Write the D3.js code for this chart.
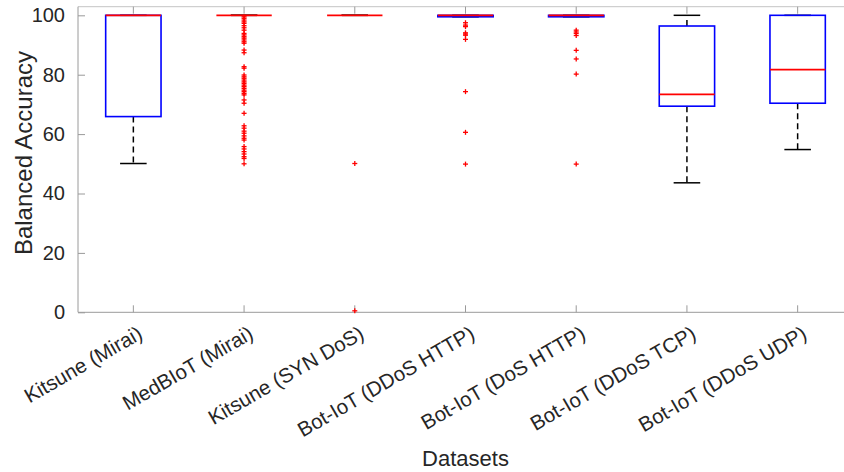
<!DOCTYPE html>
<html>
<head>
<meta charset="utf-8">
<script src="https://cdn.jsdelivr.net/npm/d3@7"></script>
<style>
    body { margin: 0; background: white; }
    text { font-family: "Liberation Sans", Arial, sans-serif; fill: #262626; }
</style>
</head>
<body>
<div id="chart"></div>
<script>

// values
const categories = ["Kitsune (Mirai)", "MedBIoT (Mirai)", "Kitsune (SYN DoS)", "Bot-IoT (DDoS HTTP)",
    "Bot-IoT (DoS HTTP)", "Bot-IoT (DDoS TCP)", "Bot-IoT (DDoS UDP)"];
const whiskerLow = [50.1, 100, 100, 99.5, 99.5, 43.6, 54.8];
const q1 = [65.9, 100, 100, 99.5, 99.5, 69.4, 70.4];
const medians = [100, 100, 100, 100, 100, 73.4, 81.7];
const q3 = [100, 100, 100, 100, 100, 96.4, 100];
const whiskerHigh = [100, 100, 100, 100, 100, 100, 100];
const outliers = [
    [],
    [99.5, 99.0, 98.4, 97.8, 97.3, 96.5, 95.8, 95.0, 93.9, 93.4, 92.8, 92.3, 91.7, 91.1, 90.6,
        88.3, 87.4, 82.7, 82.2, 79.9, 79.3, 78.8, 78.2, 77.6, 77.1, 76.5, 76.0, 75.4, 74.8, 74.3,
        73.7, 73.2, 71.5, 70.4, 67.0, 62.8, 62.0, 61.0, 60.3, 59.4, 58.6, 58.0, 55.8, 55.0, 54.1,
        53.3, 52.4, 51.8, 50.0],
    [50.1, 0.5],
    [97.5, 96.7, 96.2, 94.1, 93.7, 93.3, 91.9, 74.3, 60.6, 49.9],
    [95.0, 94.4, 93.9, 93.2, 88.2, 85.3, 80.2, 49.9],
    [],
    []
];
const yTicks = [0, 20, 40, 60, 80, 100];
const yMax = 102.9;

let boxData = categories.map((c, i) => ({
    name: c,
    lo: whiskerLow[i],
    q1: q1[i],
    med: medians[i],
    q3: q3[i],
    hi: whiskerHigh[i],
    out: outliers[i]
}));

let margin = { top: 6.7, left: 78 };
let width = 775;       // axis runs past the right edge of the picture, as in the reference
let height = 305.6;

let svg = d3.select("#chart").append("svg")
    .attr("width", 844)
    .attr("height", 472);

let g = svg.append("g")
    .attr("transform", "translate(" + margin.left + "," + margin.top + ")");

let x = d3.scaleBand()
    .domain(categories)
    .range([0, width])
    .padding(0);
let y = d3.scaleLinear()
    .domain([0, yMax])
    .range([height, 0]);

let bw = x.bandwidth();
let cx = d => x(d.name) + bw / 2;
let boxHalf = bw * 0.25;
let capHalf = bw * 0.12;

// frame lines
g.append("line").attr("x1", 0).attr("x2", width).attr("y1", 0).attr("y2", 0)
    .attr("stroke", "#c4c4c4").attr("stroke-width", 1);
g.append("line").attr("x1", 0).attr("x2", width).attr("y1", height).attr("y2", height)
    .attr("stroke", "#9a9a9a").attr("stroke-width", 1);
g.append("line").attr("x1", 0).attr("x2", 0).attr("y1", 0).attr("y2", height)
    .attr("stroke", "#9a9a9a").attr("stroke-width", 1);

// y axis (ticks point inward)
let yAxis = d3.axisLeft(y)
    .tickValues(yTicks)
    .tickSize(-7)
    .tickPadding(13);
g.append("g")
    .attr("class", "axis y-axis")
    .call(yAxis)
    .call(a => a.select(".domain").remove())
    .call(a => a.selectAll(".tick line").attr("stroke", "#9a9a9a"))
    .call(a => a.selectAll("text").style("font-size", "20px").attr("fill", "#262626"));

// x ticks, bottom and top, inward
g.selectAll(".xtick-bottom")
    .data(boxData)
    .enter().append("line")
    .attr("class", "xtick-bottom")
    .attr("x1", cx).attr("x2", cx)
    .attr("y1", height).attr("y2", height - 7)
    .attr("stroke", "#9a9a9a");
g.selectAll(".xtick-top")
    .data(boxData)
    .enter().append("line")
    .attr("class", "xtick-top")
    .attr("x1", cx).attr("x2", cx)
    .attr("y1", 0).attr("y2", 7)
    .attr("stroke", "#9a9a9a");

// rotated tick labels
g.selectAll(".xlabel")
    .data(boxData)
    .enter().append("text")
    .attr("class", "xlabel")
    .attr("transform", d => "translate(" + (cx(d) + 7) + "," + (height + 19) + ") rotate(-30)")
    .attr("dy", "0.35em")
    .style("text-anchor", "end")
    .style("font-size", "20.5px")
    .text(d => d.name);

// whiskers
let whiskers = g.selectAll(".whisker")
    .data(boxData)
    .enter().append("g")
    .attr("class", "whisker");

whiskers.append("line")
    .attr("x1", cx).attr("x2", cx)
    .attr("y1", d => y(d.q1)).attr("y2", d => y(d.lo))
    .attr("stroke", "black").attr("stroke-width", 1.5)
    .attr("stroke-dasharray", "6,4");
whiskers.append("line")
    .attr("x1", cx).attr("x2", cx)
    .attr("y1", d => y(d.q3)).attr("y2", d => y(d.hi))
    .attr("stroke", "black").attr("stroke-width", 1.5)
    .attr("stroke-dasharray", "6,4");
whiskers.append("line")
    .attr("x1", d => cx(d) - capHalf).attr("x2", d => cx(d) + capHalf)
    .attr("y1", d => y(d.lo)).attr("y2", d => y(d.lo))
    .attr("stroke", "black").attr("stroke-width", 1.5);
whiskers.append("line")
    .attr("x1", d => cx(d) - capHalf).attr("x2", d => cx(d) + capHalf)
    .attr("y1", d => y(d.hi)).attr("y2", d => y(d.hi))
    .attr("stroke", "black").attr("stroke-width", 1.5);

// boxes
g.selectAll(".box")
    .data(boxData)
    .enter().append("rect")
    .attr("class", "box")
    .attr("x", d => cx(d) - boxHalf)
    .attr("y", d => y(d.q3))
    .attr("width", boxHalf * 2)
    .attr("height", d => y(d.q1) - y(d.q3))
    .attr("fill", "none")
    .attr("stroke", "#0000ff")
    .attr("stroke-width", 1.6);

// medians
g.selectAll(".median")
    .data(boxData)
    .enter().append("line")
    .attr("class", "median")
    .attr("x1", d => cx(d) - boxHalf).attr("x2", d => cx(d) + boxHalf)
    .attr("y1", d => y(d.med)).attr("y2", d => y(d.med))
    .attr("stroke", "#ff0000")
    .attr("stroke-width", 1.8);

// outliers as '+' markers
let outlierPts = [];
boxData.forEach(d => d.out.forEach(v => outlierPts.push({ name: d.name, v: v })));

let marks = g.selectAll(".outlier")
    .data(outlierPts)
    .enter().append("g")
    .attr("class", "outlier")
    .attr("transform", d => "translate(" + (x(d.name) + bw / 2) + "," + y(d.v) + ")");
marks.append("line").attr("x1", -2.5).attr("x2", 2.5).attr("y1", 0).attr("y2", 0)
    .attr("stroke", "#ff0000").attr("stroke-width", 1.3);
marks.append("line").attr("x1", 0).attr("x2", 0).attr("y1", -2.5).attr("y2", 2.5)
    .attr("stroke", "#ff0000").attr("stroke-width", 1.3);

// axis titles
svg.append("text")
    .attr("transform", "rotate(-90)")
    .attr("x", -153)
    .attr("y", 32)
    .style("text-anchor", "middle")
    .style("font-size", "24px")
    .text("Balanced Accuracy");

svg.append("text")
    .attr("x", margin.left + width / 2)
    .attr("y", 466)
    .style("text-anchor", "middle")
    .style("font-size", "22px")
    .text("Datasets");

</script>
</body>
</html>
